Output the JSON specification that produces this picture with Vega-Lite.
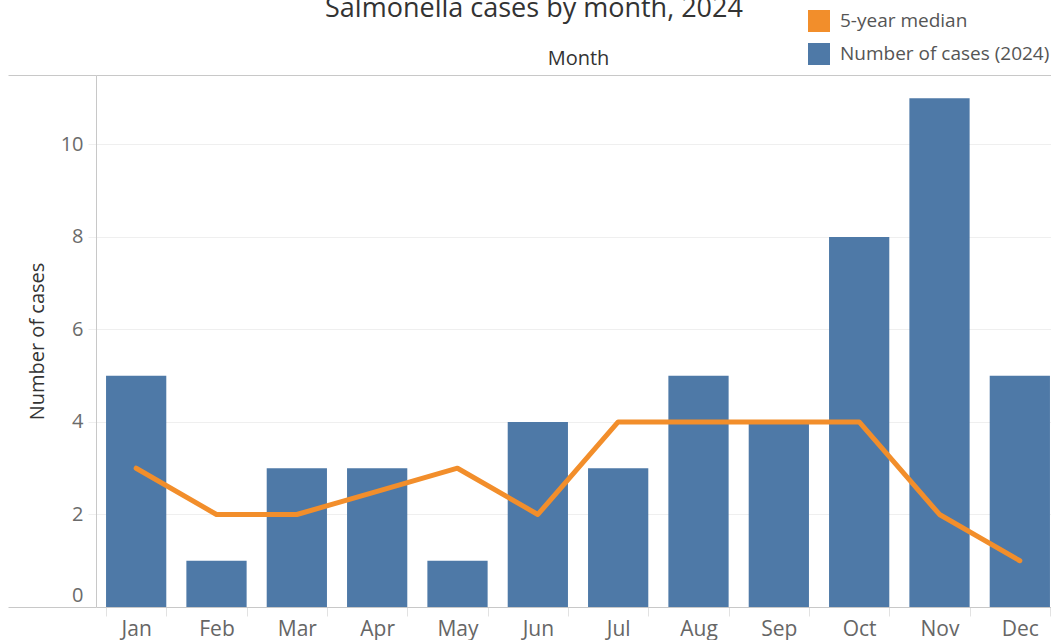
{
  "$schema": "https://vega.github.io/schema/vega-lite/v6.json",
  "width": 964,
  "height": 532,
  "autosize": {"type": "none"},
  "padding": {"left": 96, "top": 75, "right": 0, "bottom": 33},
  "background": "white",
  "title": {
    "text": "Salmonella cases by month, 2024",
    "font": "Open Sans",
    "fontSize": 27,
    "fontWeight": "normal",
    "color": "#333333",
    "anchor": "middle",
    "dx": -44,
    "offset": -13
  },
  "config": {"view": {"stroke": null}, "font": "Open Sans"},
  "data": {
    "values": [
      {"month": "Jan", "cases": 5, "median": 3},
      {"month": "Feb", "cases": 1, "median": 2},
      {"month": "Mar", "cases": 3, "median": 2},
      {"month": "Apr", "cases": 3, "median": 2.5},
      {"month": "May", "cases": 1, "median": 3},
      {"month": "Jun", "cases": 4, "median": 2},
      {"month": "Jul", "cases": 3, "median": 4},
      {"month": "Aug", "cases": 5, "median": 4},
      {"month": "Sep", "cases": 4, "median": 4},
      {"month": "Oct", "cases": 8, "median": 4},
      {"month": "Nov", "cases": 11, "median": 2},
      {"month": "Dec", "cases": 5, "median": 1}
    ]
  },
  "layer": [
    {
      "mark": {"type": "bar"},
      "encoding": {
        "x": {
          "field": "month",
          "type": "ordinal",
          "sort": null,
          "scale": {"paddingInner": 0.25, "paddingOuter": 0.125},
          "axis": {
            "orient": "bottom",
            "title": null,
            "labelAngle": 0,
            "labelFontSize": 21,
            "labelColor": "#666666",
            "labelPadding": 2,
            "tickBand": "extent",
            "ticks": true,
            "tickColor": "#e2e2e2",
            "tickSize": 9,
            "domain": true,
            "domainColor": "#c8c8c8",
            "grid": false
          }
        },
        "y": {
          "field": "cases",
          "type": "quantitative",
          "scale": {"domain": [0, 11.5], "nice": false},
          "axis": {
            "orient": "left",
            "title": "Number of cases",
            "titleFont": "Open Sans",
            "titleFontSize": 20,
            "titleFontWeight": "normal",
            "titleColor": "#333333",
            "titlePadding": 13,
            "values": [0, 2, 4, 6, 8, 10],
            "labelFontSize": 20,
            "labelColor": "#6b6b6b",
            "labelPadding": 5,
            "labelBaseline": {"condition": {"test": "datum.value === 0", "value": "bottom"}, "value": "middle"},
            "labelOffset": {"condition": {"test": "datum.value === 0", "value": -2}, "value": 0},
            "grid": true,
            "gridColor": "#efefef",
            "ticks": true,
            "tickColor": "#efefef",
            "tickSize": 8,
            "domain": true,
            "domainColor": "#c8c8c8"
          }
        },
        "color": {
          "datum": "Number of cases (2024)",
          "type": "nominal",
          "scale": {
            "domain": ["5-year median", "Number of cases (2024)"],
            "range": ["#f28e2b", "#4e79a7"]
          },
          "legend": {
            "orient": "none",
            "legendX": 712,
            "legendY": -65,
            "title": null,
            "symbolType": "square",
            "symbolSize": 484,
            "symbolStrokeWidth": 0,
            "labelFontSize": 19,
            "labelColor": "#555555",
            "labelOffset": 10,
            "labelLimit": 400,
            "rowPadding": 11,
            "encode": {
              "symbols": {
                "update": {
                  "fill": {"scale": "color", "field": "value"},
                  "opacity": {"value": 1},
                  "strokeWidth": {"value": 0}
                }
              }
            }
          }
        }
      }
    },
    {
      "mark": {"type": "line", "strokeWidth": 5, "strokeCap": "round", "strokeJoin": "round"},
      "encoding": {
        "x": {
          "field": "month",
          "type": "ordinal",
          "sort": null,
          "axis": {
            "orient": "top",
            "title": "Month",
            "titleFontSize": 20,
            "titleFontWeight": "normal",
            "titleColor": "#333333",
            "titlePadding": 7,
            "labels": false,
            "ticks": false,
            "grid": false,
            "domain": true,
            "domainColor": "#c8c8c8"
          }
        },
        "y": {
          "field": "median",
          "type": "quantitative",
          "axis": {
            "orient": "left",
            "title": null,
            "labels": false,
            "grid": false,
            "domain": false,
            "values": [0, 11.5],
            "ticks": true,
            "tickSize": 88,
            "tickColor": "#c8c8c8"
          }
        },
        "color": {"datum": "5-year median", "type": "nominal"}
      }
    }
  ],
  "resolve": {"axis": {"x": "independent", "y": "independent"}}
}
